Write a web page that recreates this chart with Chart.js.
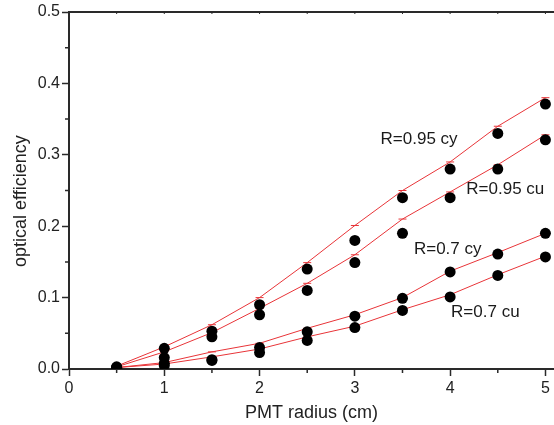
<!DOCTYPE html>
<html>
<head>
<meta charset="utf-8">
<script src="https://cdn.jsdelivr.net/npm/chart.js@4.4.1/dist/chart.umd.min.js"></script>
<style>
  html, body { margin: 0; padding: 0; background: #fff; }
  #wrap { width: 554px; height: 425px; }
</style>
</head>
<body>
<div id="wrap"><canvas id="chart" width="554" height="425"></canvas></div>
<script>
// PMT radius (cm)
const radius = [0.5, 1, 1.5, 2, 2.5, 3, 3.5, 4, 4.5, 5];

// fitted curves (red)
const fitCy95 = [0.004, 0.031, 0.062, 0.100, 0.149, 0.201, 0.250, 0.290, 0.340, 0.380];
const fitCu95 = [0.003, 0.024, 0.051, 0.085, 0.120, 0.160, 0.210, 0.248, 0.286, 0.328];
const fitCy70 = [0.002, 0.009, 0.024, 0.036, 0.057, 0.076, 0.100, 0.137, 0.163, 0.190];
const fitCu70 = [0.002, 0.007, 0.017, 0.028, 0.045, 0.060, 0.083, 0.104, 0.132, 0.158];

// measured points (black)
const ptsCy95 = [0.003, 0.029, 0.053, 0.090, 0.140, 0.180, 0.240, 0.280, 0.330, 0.371];
const ptsCu95 = [0.002, 0.016, 0.045, 0.076, 0.110, 0.149, 0.190, 0.240, 0.280, 0.321];
const ptsCy70 = [0.002, 0.008, 0.013, 0.030, 0.052, 0.074, 0.099, 0.136, 0.161, 0.190];
const ptsCu70 = [0.001, 0.005, 0.012, 0.023, 0.040, 0.058, 0.082, 0.101, 0.131, 0.157];

const xTicks = [0, 1, 2, 3, 4, 5];
const yTicks = [0, 0.1, 0.2, 0.3, 0.4, 0.5];

const curveLabels = ['R=0.95 cy', 'R=0.95 cu', 'R=0.7 cy', 'R=0.7 cu'];

const RED = 'rgb(232, 52, 56)';
const AXIS = '#2a2a2a';
const FONT = "'Liberation Sans', Arial, sans-serif";

const toXY = vals => radius.map((r, i) => ({ x: r, y: vals[i] }));

function fitSet(vals) {
  return {
    type: 'line', data: toXY(vals), order: 2,
    borderColor: RED, borderWidth: 1, tension: 0,
    pointStyle: 'line', pointRadius: 4, pointBorderColor: RED, pointBorderWidth: 1
  };
}
function ptSet(vals) {
  return {
    type: 'scatter', data: toXY(vals), order: 1, showLine: false,
    pointStyle: 'circle', pointRadius: 5.5, backgroundColor: '#000', borderColor: '#000', borderWidth: 0
  };
}

// minor ticks, top frame, y title and curve labels
const extras = {
  id: 'extras',
  afterDraw(chart) {
    const { ctx, chartArea: a, scales: { x, y } } = chart;
    ctx.save();
    ctx.strokeStyle = AXIS;
    ctx.lineWidth = 1.5;
    ctx.beginPath();
    for (let v = 0.5; v < 5; v += 1) {
      const px = x.getPixelForValue(v);
      ctx.moveTo(px, a.bottom); ctx.lineTo(px, a.bottom + 4);
    }
    for (let v = 0.05; v < 0.5; v += 0.1) {
      const py = y.getPixelForValue(v);
      ctx.moveTo(a.left, py); ctx.lineTo(a.left - 4, py);
    }
    ctx.stroke();
    // top frame
    ctx.lineWidth = 2;
    ctx.beginPath();
    ctx.moveTo(a.left, a.top); ctx.lineTo(a.right, a.top);
    ctx.stroke();
    ctx.lineWidth = 1;
    ctx.beginPath();
    for (let v = 0.5; v <= 5; v += 0.5) {
      const px = x.getPixelForValue(v);
      ctx.moveTo(px, a.top); ctx.lineTo(px, a.top + 2);
    }
    ctx.stroke();
    // y title, a bit below the axis centre as in the original
    ctx.fillStyle = '#222';
    ctx.font = '18px ' + FONT;
    ctx.textAlign = 'center';
    ctx.textBaseline = 'middle';
    ctx.translate(21, y.getPixelForValue(0.235));
    ctx.rotate(-Math.PI / 2);
    ctx.fillText('optical efficiency', 0, 0);
    ctx.setTransform(1, 0, 0, 1, 0, 0);
    // labels
    const spots = [[3.27, 0.322], [4.17, 0.252], [3.62, 0.168], [4.01, 0.079]];
    ctx.fillStyle = '#1a1a1a';
    ctx.font = '17px ' + FONT;
    ctx.textAlign = 'left';
    curveLabels.forEach((t, i) => {
      ctx.fillText(t, x.getPixelForValue(spots[i][0]), y.getPixelForValue(spots[i][1]));
    });
    ctx.restore();
  }
};

new Chart(document.getElementById('chart'), {
  data: {
    datasets: [
      ptSet(ptsCy95), ptSet(ptsCu95), ptSet(ptsCy70), ptSet(ptsCu70),
      fitSet(fitCy95), fitSet(fitCu95), fitSet(fitCy70), fitSet(fitCu70)
    ]
  },
  options: {
    responsive: false,
    animation: false,
    layout: { autoPadding: false, padding: { top: 12, right: 0, left: 0, bottom: 0 } },
    plugins: { legend: { display: false }, tooltip: { enabled: false } },
    scales: {
      x: {
        type: 'linear', min: 0, max: 5.09,
        afterBuildTicks: s => { s.ticks = xTicks.map(v => ({ value: v })); },
        afterFit: s => { s.height = 56; s.paddingLeft = 0; s.paddingRight = 0; },
        grid: { drawOnChartArea: false, drawTicks: true, tickLength: 7, tickColor: AXIS, tickWidth: 1.5 },
        border: { display: true, color: AXIS, width: 2 },
        ticks: { color: '#222', padding: 3, font: { family: FONT, size: 16 }, maxRotation: 0, callback: v => String(v) },
        title: { display: true, text: 'PMT radius (cm)', color: '#222', font: { family: FONT, size: 18 }, padding: { top: 0, bottom: 1 } }
      },
      y: {
        type: 'linear', min: 0, max: 0.5,
        afterBuildTicks: s => { s.ticks = yTicks.map(v => ({ value: v })); },
        afterFit: s => { s.width = 69; s.paddingTop = 0; s.paddingBottom = 0; },
        grid: { drawOnChartArea: false, drawTicks: true, tickLength: 7, tickColor: AXIS, tickWidth: 1.5 },
        border: { display: true, color: AXIS, width: 2 },
        ticks: { color: '#222', padding: 2, font: { family: FONT, size: 16 }, callback: v => v.toFixed(1) },
        title: { display: false }
      }
    }
  },
  plugins: [extras]
});
</script>
</body>
</html>
